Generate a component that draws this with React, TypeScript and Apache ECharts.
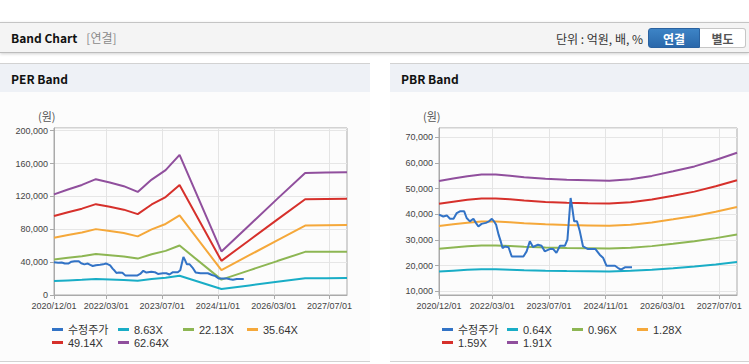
import React, { useEffect, useRef } from 'react';
import * as echarts from 'echarts';

// ---------- data ----------
// x-axis tick labels (monthly axis 2020/12/01 .. 2027/12/01)
const tickLabels = ['2020/12/01', '2022/03/01', '2023/07/01', '2024/11/01', '2026/03/01', '2027/07/01'];

// adjusted price (수정주가): month offsets from 2020/12/01 and values (원)
const priceMonths = [0, 1.2, 2.2, 3.1, 4.1, 5.0, 5.9, 7.1, 7.8, 8.7, 9.7, 10.4, 11.1, 12.0, 13.2, 14.1, 14.9, 15.5, 16.1, 16.8, 17.4, 17.9, 18.6, 19.6, 20.5, 23.8, 24.7, 25.6, 26.5, 27.9, 28.9, 29.8, 31.2, 32.2, 33.1, 34.1, 35.5, 36.2, 36.7, 37.1, 37.5, 38.1, 38.9, 39.7, 40.6, 42.0, 44.1, 45.3, 46.3, 47.2, 49.6, 50.5, 51.3, 52.4, 54.4];
const priceValues = [39900, 39200, 39600, 38300, 38300, 40500, 41200, 41200, 38600, 37300, 38300, 36700, 35300, 36300, 36700, 37300, 38300, 37300, 36000, 32100, 29500, 26900, 27500, 27200, 23600, 23600, 25600, 29500, 27300, 28200, 27800, 25600, 26500, 26500, 25000, 27800, 27800, 30200, 39200, 46400, 43100, 37300, 37300, 33400, 27500, 26500, 26500, 24300, 23000, 20000, 20000, 19100, 18500, 19400, 19400];

// PER band
const perNames = ['8.63X', '22.13X', '35.64X', '49.14X', '62.64X'];
const perMonths = [0, 4, 8, 12, 16, 20, 24, 28, 32, 36, 48, 56, 64, 72, 78, 84];
const per863 = [16900, 17700, 18500, 19400, 18900, 18300, 17300, 19400, 20900, 23500, 7300, 11700, 16100, 20500, 20500, 20600];
const per2213 = [43300, 45400, 47300, 49800, 48400, 46800, 44300, 49600, 53700, 60200, 18700, 30000, 41300, 52500, 52600, 52800];
const per3564 = [69700, 73100, 76200, 80200, 77900, 75400, 71400, 79900, 86500, 97000, 30200, 48400, 66600, 84500, 84800, 85100];
const per4914 = [96100, 100800, 105100, 110600, 107500, 103900, 98500, 110200, 119200, 133800, 41600, 66700, 91800, 116500, 116900, 117300];
const per6264 = [122500, 128500, 134000, 141000, 137000, 132500, 125500, 140500, 152000, 170500, 53000, 85000, 117000, 148500, 149000, 149500];

// PBR band
const pbrNames = ['0.64X', '0.96X', '1.28X', '1.59X', '1.91X'];
const pbrMonths = [0, 4, 8, 12, 16, 20, 24, 30, 36, 42, 48, 54, 60, 66, 72, 78, 84];
const pbr064 = [17760, 18090, 18400, 18600, 18600, 18460, 18260, 18060, 17930, 17860, 17790, 18000, 18430, 19030, 19670, 20510, 21450];
const pbr096 = [26640, 27140, 27590, 27890, 27890, 27690, 27390, 27090, 26890, 26790, 26690, 26990, 27640, 28550, 29500, 30760, 32170];
const pbr128 = [35520, 36190, 36790, 37200, 37200, 36930, 36530, 36120, 35860, 35720, 35590, 35990, 36860, 38070, 39340, 41020, 42890];
const pbr159 = [44120, 44960, 45700, 46200, 46200, 45870, 45370, 44870, 44540, 44370, 44210, 44710, 45790, 47290, 48870, 50950, 53280];
const pbr191 = [53000, 54000, 54900, 55500, 55500, 55100, 54500, 53900, 53500, 53300, 53100, 53700, 55000, 56800, 58700, 61200, 64000];

const priceName = '수정주가';
const priceColor = '#3273c6';
const bandColors = ['#19adc6', '#8db653', '#f5a83a', '#d6302b', '#904f9d'];

const FONT = '"Liberation Sans", Arial, "Noto Sans CJK KR", sans-serif';
const HFONT = '"Noto Sans CJK KR", "Liberation Sans", sans-serif';

function monthCategories(): string[] {
  const out: string[] = [];
  for (let i = 0; i <= 84; i++) {
    const y = 2020 + Math.floor((11 + i) / 12);
    const m = ((11 + i) % 12) + 1;
    out.push(`${y}/${String(m).padStart(2, '0')}/01`);
  }
  return out;
}

const pair = (ms: number[], vs: number[]) => ms.map((m, i) => [m, vs[i]]);
const fmt = (v: number) => Math.round(v).toLocaleString('en-US');

function buildOption() {
  const cats = monthCategories();
  const showTick = (_i: number, v: string) => tickLabels.includes(v);
  const catAxis = (gridIndex: number) => ({
    type: 'category',
    gridIndex,
    data: cats,
    boundaryGap: false,
    axisLine: { lineStyle: { color: '#aaa' } },
    axisTick: { show: true, interval: showTick, length: 4, lineStyle: { color: '#aaa' } },
    axisLabel: { interval: showTick, fontSize: 9, color: '#444', margin: 6, fontFamily: FONT },
    splitLine: { show: true, interval: showTick, lineStyle: { color: '#e4e4e4' } },
  });
  const valX = (gridIndex: number) => ({ type: 'value', gridIndex, min: 0, max: 84, show: false });
  const yAxisBase = {
    axisLine: { show: true, lineStyle: { color: '#aaa' } },
    axisTick: { show: true, length: 4, lineStyle: { color: '#aaa' } },
    axisLabel: { fontSize: 9, color: '#444', margin: 6, fontFamily: FONT, formatter: fmt, showMaxLabel: false },
    splitLine: { show: true, lineStyle: { color: '#e6e6e6' } },
  };

  const lineSeries = (name: string, data: number[][], color: string, xi: number, yi: number, z = 2) => ({
    type: 'line',
    name,
    data,
    xAxisIndex: xi,
    yAxisIndex: yi,
    showSymbol: false,
    symbol: 'none',
    color,
    z,
    lineStyle: { width: 2, color },
  });

  const perData = [per863, per2213, per3564, per4914, per6264];
  const pbrData = [pbr064, pbr096, pbr128, pbr159, pbr191];

  const series: any[] = [];
  perData.forEach((d, i) => series.push(lineSeries(perNames[i], pair(perMonths, d), bandColors[i], 1, 0)));
  series.push(lineSeries(priceName, pair(priceMonths, priceValues), priceColor, 1, 0, 3));
  pbrData.forEach((d, i) => series.push(lineSeries(pbrNames[i], pair(pbrMonths, d), bandColors[i], 3, 1)));
  series.push(lineSeries(priceName, pair(priceMonths, priceValues), priceColor, 3, 1, 3));

  const legendItem = (name: string, left: number, top: number) => ({
    data: [name],
    left,
    top,
    orient: 'horizontal',
    padding: 0,
    itemGap: 0,
    icon: 'rect',
    itemWidth: 11,
    itemHeight: 3,
    selectedMode: false,
    textStyle: { fontSize: 11, color: '#333', fontFamily: FONT },
  });
  const legendNamesL = [priceName, ...perNames];
  const legendNamesR = [priceName, ...pbrNames];
  const colsL = [52, 118, 183, 247];
  const colsR = [442, 507, 572, 637];
  const rows = [324, 337];
  const legends: any[] = [];
  legendNamesL.forEach((n, i) => legends.push(legendItem(n, colsL[i % 4], rows[Math.floor(i / 4)])));
  legendNamesR.forEach((n, i) => legends.push(legendItem(n, colsR[i % 4], rows[Math.floor(i / 4)])));

  return {
    animation: false,
    textStyle: { fontFamily: FONT },
    grid: [
      { left: 54, top: 128, width: 293, height: 167, show: true, borderColor: '#aaa', borderWidth: 1, backgroundColor: 'transparent' },
      { left: 439, top: 128, width: 298, height: 167, show: true, borderColor: '#aaa', borderWidth: 1, backgroundColor: 'transparent' },
    ],
    xAxis: [catAxis(0), valX(0), catAxis(1), valX(1)],
    yAxis: [
      { type: 'value', gridIndex: 0, min: 0, max: 203300, interval: 40000, ...yAxisBase },
      { type: 'value', gridIndex: 1, min: 8600, max: 73660, ...yAxisBase, axisLabel: { ...yAxisBase.axisLabel, showMinLabel: false } },
    ],
    legend: legends,
    graphic: [
      { type: 'text', left: 38, top: 110, style: { text: '(원)', fontSize: 11, fill: '#555', fontFamily: HFONT } },
      { type: 'text', left: 423, top: 110, style: { text: '(원)', fontSize: 11, fill: '#555', fontFamily: HFONT } },
    ],
    series,
  };
}

export default function App() {
  const ref = useRef<HTMLDivElement>(null);
  useEffect(() => {
    document.body.style.margin = '0';
    if (!ref.current) return;
    const chart = echarts.init(ref.current, undefined, { renderer: 'svg', width: 749, height: 364 });
    chart.setOption(buildOption() as any);
    return () => chart.dispose();
  }, []);

  const panelHeader = (left: number, width: number, title: string) => (
    <div style={{ position: 'absolute', left, top: 63, width, height: 299, borderTop: '1px solid #d2d2d2', borderBottom: '1px solid #d2d2d2', background: '#fcfcfc', boxSizing: 'border-box' }}>
      <div style={{ height: 28, background: '#eef1f6', display: 'flex', alignItems: 'center', paddingLeft: 11, fontWeight: 'bold', fontSize: 12, color: '#111', fontFamily: HFONT }}>{title}</div>
    </div>
  );

  return (
    <div style={{ position: 'relative', width: 749, height: 364, background: '#fff', overflow: 'hidden', fontFamily: HFONT }}>
      <div style={{ position: 'absolute', left: 0, top: 22, width: 749, height: 31, background: '#f4f4f4', borderTop: '1px solid #c4c4c4', borderBottom: '1px solid #bcbcbc', boxShadow: '0 1px 3px rgba(0,0,0,0.18)', boxSizing: 'border-box' }}>
        <div style={{ position: 'absolute', left: 11, top: 0, height: 29, display: 'flex', alignItems: 'center', fontSize: 12, fontWeight: 'bold', color: '#111' }}>
          Band Chart<span style={{ fontWeight: 'normal', color: '#8a8a8a', marginLeft: 9 }}>[연결]</span>
        </div>
        <div style={{ position: 'absolute', right: 106, top: 0, height: 31, display: 'flex', alignItems: 'center', fontSize: 12, color: '#333' }}>단위 : 억원, 배, %</div>
        <div style={{ position: 'absolute', left: 648, top: 5, width: 52, height: 20, boxSizing: 'border-box', background: 'linear-gradient(#3d84c6, #2a68ab)', border: '1px solid #2a62a0', borderRadius: '3px 0 0 3px', color: '#fff', fontWeight: 'bold', fontSize: 12, display: 'flex', alignItems: 'center', justifyContent: 'center' }}>연결</div>
        <div style={{ position: 'absolute', left: 700, top: 5, width: 46, height: 20, boxSizing: 'border-box', background: '#fff', border: '1px solid #c6c6c6', borderLeft: 'none', borderRadius: '0 3px 3px 0', color: '#555', fontWeight: 'bold', fontSize: 12, display: 'flex', alignItems: 'center', justifyContent: 'center' }}>별도</div>
      </div>
      {panelHeader(0, 370, 'PER Band')}
      {panelHeader(390, 359, 'PBR Band')}
      <div ref={ref} style={{ position: 'absolute', left: 0, top: 0, width: 749, height: 364 }} />
    </div>
  );
}
